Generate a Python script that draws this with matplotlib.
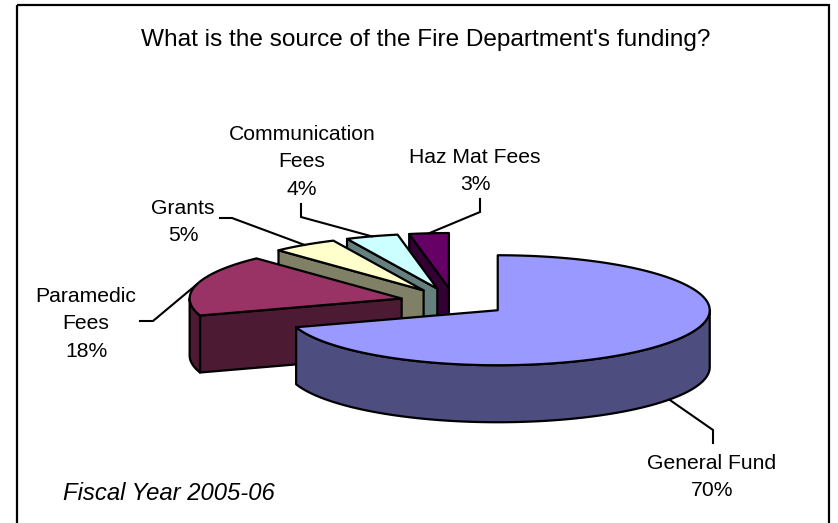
import numpy as np
import matplotlib
matplotlib.use("Agg")
import matplotlib.pyplot as plt
from matplotlib.patches import Polygon, Rectangle

# ---- data -------------------------------------------------------------
categories = ["General Fund", "Paramedic Fees", "Grants",
              "Communication Fees", "Haz Mat Fees"]
shares = [70, 18, 5, 4, 3]
label_names = [["General Fund"], ["Paramedic", "Fees"], ["Grants"],
               ["Communication", "Fees"], ["Haz Mat Fees"]]
top_colors = ["#9999FF", "#993366", "#FFFFCC", "#CCFFFF", "#660066"]
side_colors = ["#4D4D80", "#4D1A33", "#808066", "#668080", "#330033"]

title = "What is the source of the Fire Department's funding?"
note = "Fiscal Year 2005-06"

# ---- layout (pixel space) ----------------------------------------------
W, H = 838, 523
CX, CY = 454, 302          # pie centre before explosion
RX, RY = 212, 55           # projected radii of the top ellipse
DEPTH = 57                 # projected thickness of the pie
EXPLODE = 0.255            # explosion as a fraction of the radius
FONT = "Liberation Sans"
LINE_STEP = 27.5

# first-line centre of each label block
label_xy = [(712, 461), (86, 294), (183, 206), (302, 132), (475, 155)]
# leader line: points from the label side up to the slice anchor
leader_pts = [[(713, 443), (713, 430)],
              [(140, 321), (153, 321)],
              [(220, 218), (232, 218)],
              [(301, 204), (301, 217)],
              [(480, 199), (480, 212)]]

fig = plt.figure(figsize=(W / 100, H / 100), dpi=100)
ax = fig.add_axes([0, 0, 1, 1])
ax.set_xlim(0, W)
ax.set_ylim(H, 0)
ax.axis("off")

ax.add_patch(Rectangle((17, 5), 829 - 17, 540, fill=False, lw=1.6,
                       ec="black", zorder=1, clip_on=False))


def proj(cx, cy, theta, r=1.0, dz=0.0):
    t = np.radians(theta)
    return cx + r * RX * np.sin(t), cy - r * RY * np.cos(t) + dz


def arc(cx, cy, a, b, dz=0.0, n=None):
    if n is None:
        n = max(2, int(abs(b - a) / 1.0) + 2)
    th = np.linspace(a, b, n)
    xs, ys = proj(cx, cy, th, 1.0, dz)
    return list(zip(xs, ys))


edge_kw = dict(ec="black", lw=1.6, joinstyle="round")

bounds = np.concatenate([[0], np.cumsum(shares)]) * 3.6
slices = []
for i, v in enumerate(shares):
    ts, te = bounds[i], bounds[i + 1]
    mid = (ts + te) / 2
    cx, cy = proj(CX, CY, mid, EXPLODE)
    slices.append((i, ts, te, mid, cx, cy))

# paint from the back of the pie to the front
order = sorted(slices, key=lambda s: -np.cos(np.radians(s[3])))
z = 2
for i, ts, te, mid, cx, cy in order:
    side = side_colors[i]
    faces = []
    # cut faces that turn toward the viewer
    if np.sin(np.radians(ts)) < -1e-6:
        p = proj(cx, cy, ts)
        faces.append([(cx, cy), p, (p[0], p[1] + DEPTH), (cx, cy + DEPTH)])
    if np.sin(np.radians(te)) > 1e-6:
        p = proj(cx, cy, te)
        faces.append([(cx, cy), p, (p[0], p[1] + DEPTH), (cx, cy + DEPTH)])
    # visible part of the outer wall
    a, b = max(ts, 90), min(te, 270)
    if a < b:
        faces.append(arc(cx, cy, a, b) + arc(cx, cy, b, a, DEPTH))
    for f in faces:
        ax.add_patch(Polygon(f, closed=True, fc=side, zorder=z, **edge_kw))
        z += 1
    top = [(cx, cy)] + arc(cx, cy, ts, te)
    ax.add_patch(Polygon(top, closed=True, fc=top_colors[i], zorder=z,
                         **edge_kw))
    z += 1

# labels and leader lines
for i, ts, te, mid, cx, cy in slices:
    front = np.cos(np.radians(mid)) < 0
    anchor = proj(cx, cy, mid, 1.0, DEPTH if front else 0.0)
    pts = leader_pts[i] + [anchor]
    ax.plot([p[0] for p in pts], [p[1] for p in pts], color="black",
            lw=1.5, solid_joinstyle="miter", zorder=z + 1)
    lines = label_names[i] + [f"{shares[i]}%"]
    lx, ly = label_xy[i]
    for k, s in enumerate(lines):
        ax.text(lx, ly + k * LINE_STEP + 7.6, s, ha="center", va="baseline",
                fontsize=15.2, family=FONT, color="black", zorder=z + 2)

ax.text(426, 46, title, ha="center", va="baseline", fontsize=17.6,
        family=FONT, color="black")
ax.text(63, 492 + 8.5, note, ha="left", va="baseline", fontsize=17.2,
        family=FONT, style="italic", color="black")

fig.savefig("out.png", dpi=100)
